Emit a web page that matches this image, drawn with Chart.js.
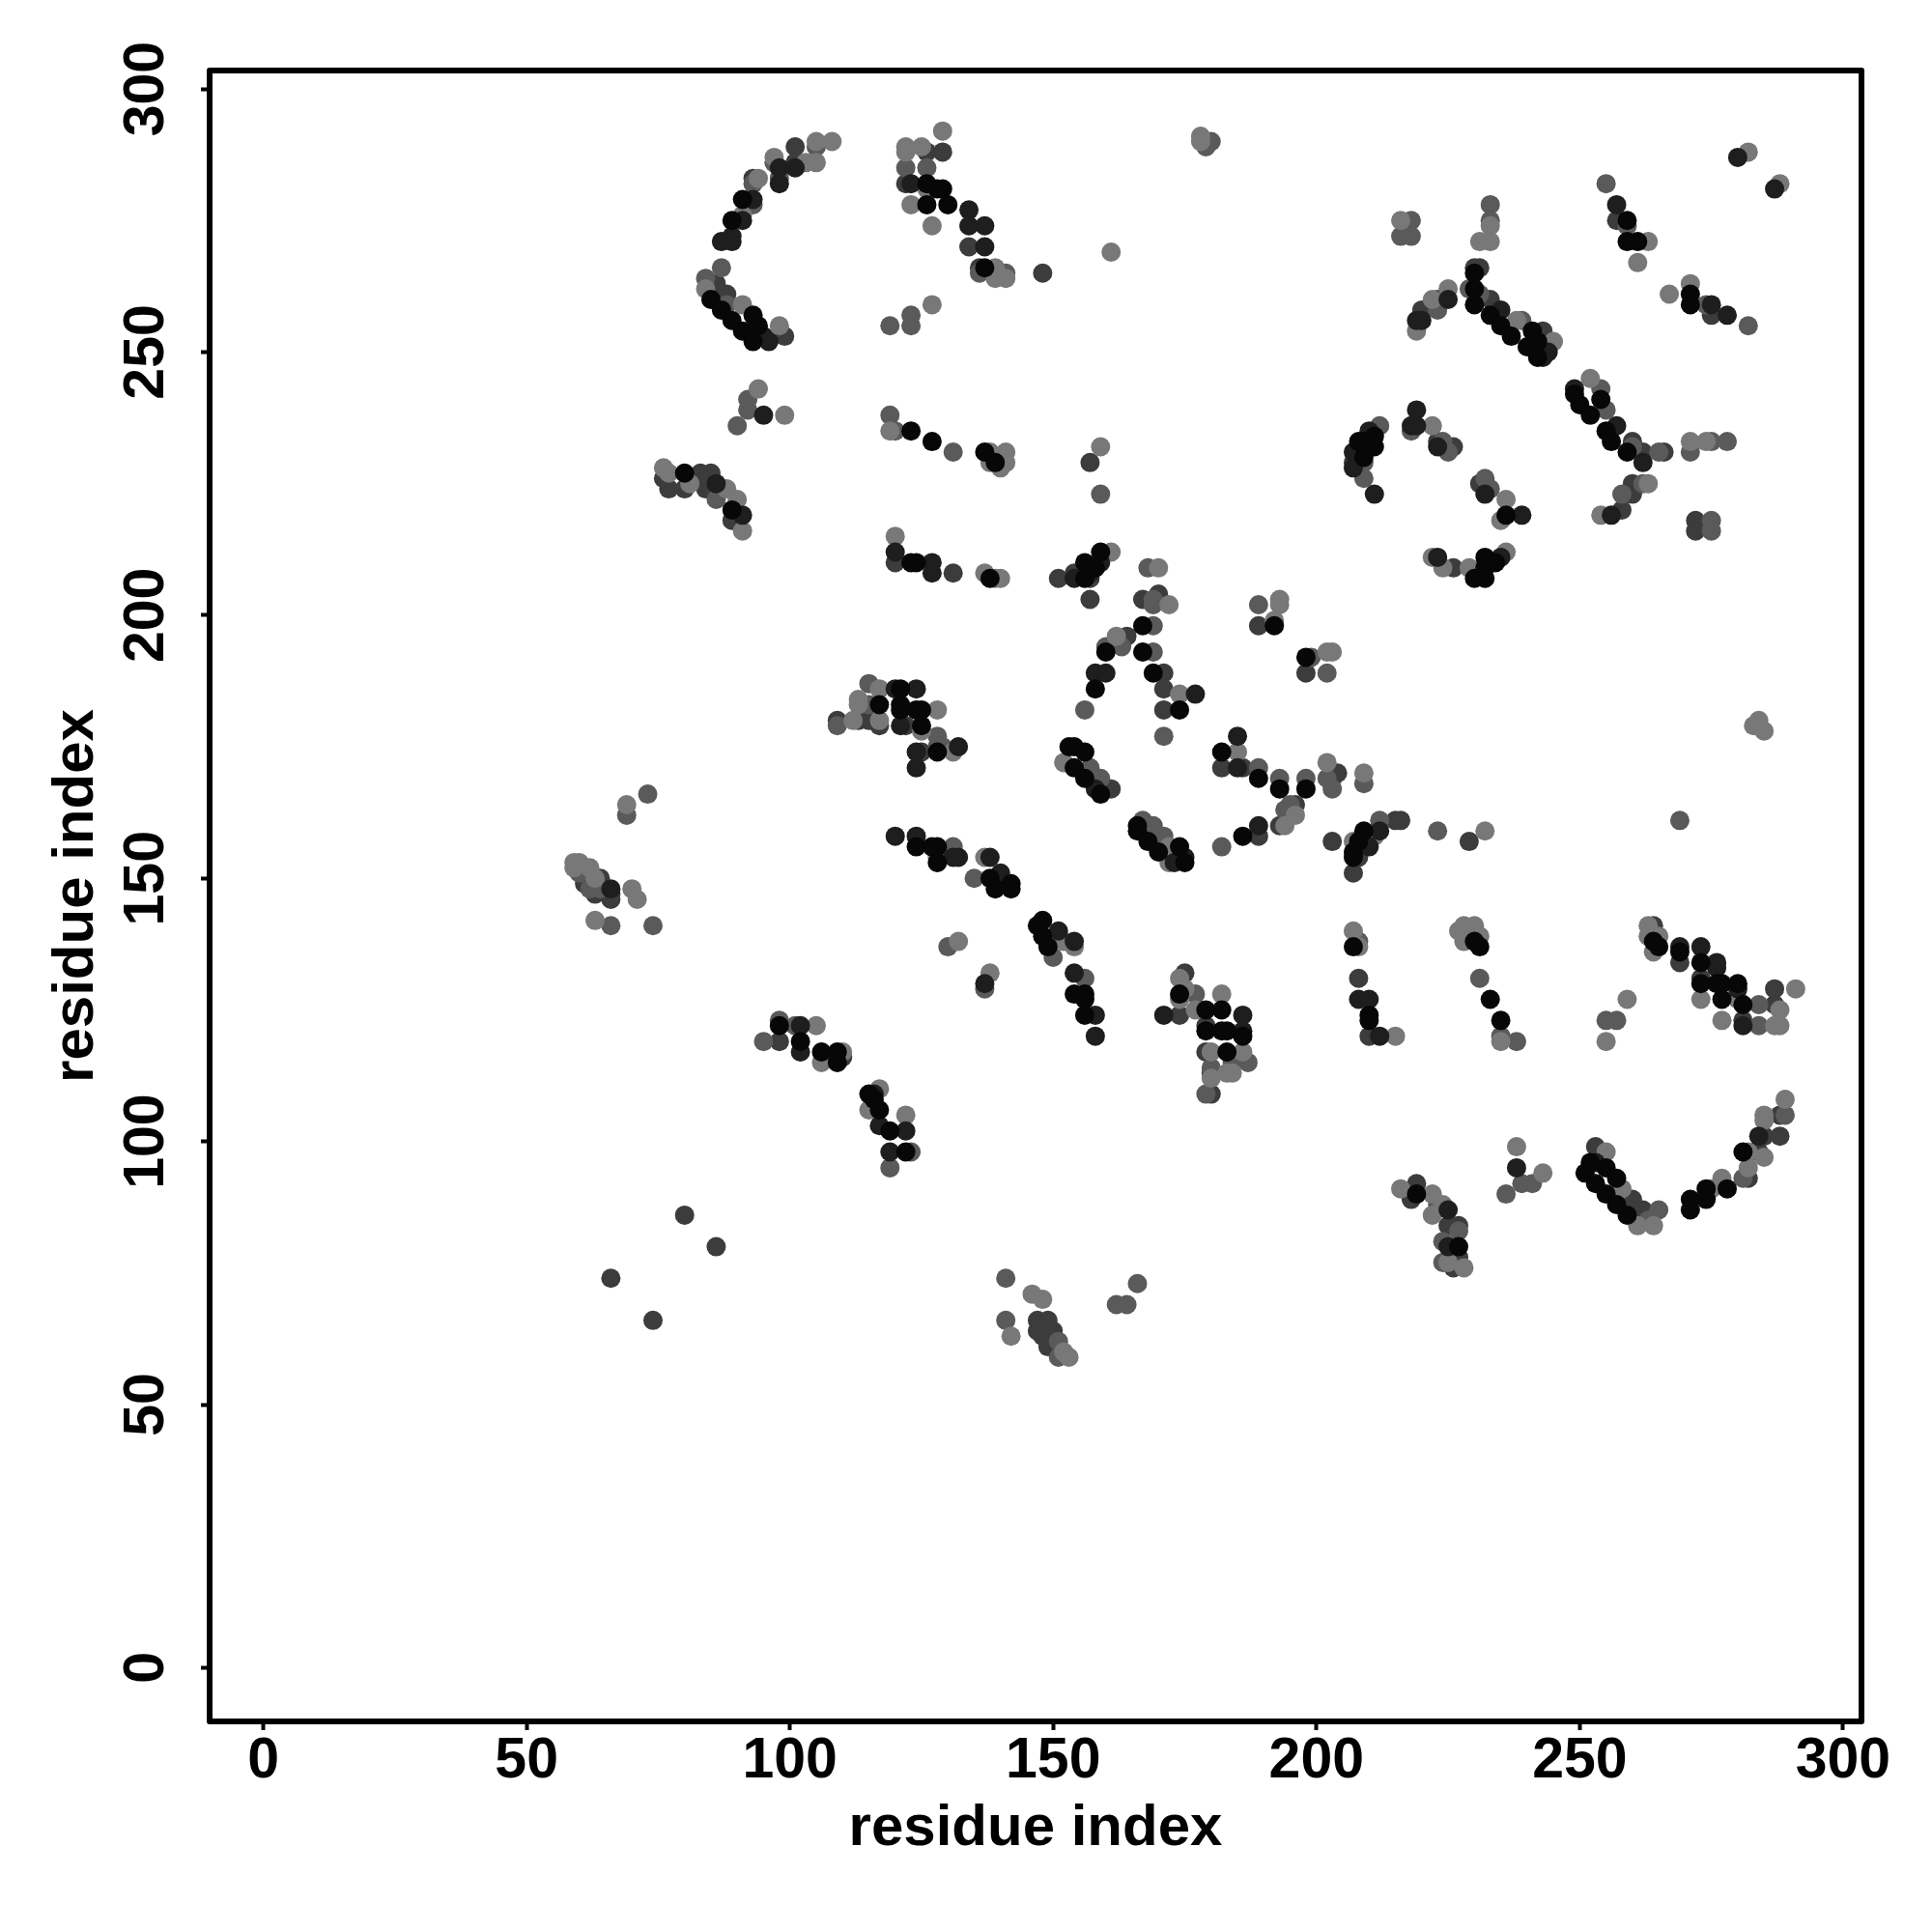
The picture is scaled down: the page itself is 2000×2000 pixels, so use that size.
<!DOCTYPE html>
<html><head><meta charset="utf-8">
<style>html,body{margin:0;padding:0;background:#fff}canvas{display:block}</style>
<script src="https://cdn.jsdelivr.net/npm/chart.js@4/dist/chart.umd.min.js"></script>
</head><body><canvas id="c" width="2000" height="2000"></canvas>
<script>
const tickValues = [0, 50, 100, 150, 200, 250, 300];
const xTitle = "residue index";
const yTitle = "residue index";
const blackPoints = [[91,279],[89,275],[85,260],[87,258],[89,256],[91,254],[93,257],[94,255],[93,252],[126,282],[129,281],[128,281],[126,278],[130,278],[137,266],[123,235],[127,233],[137,231],[139,229],[80,227],[89,220],[259,275],[259,271],[261,271],[271,261],[271,259],[230,265],[230,262],[230,259],[233,257],[235,255],[237,253],[241,254],[240,251],[242,252],[242,249],[249,242],[250,240],[254,241],[252,238],[255,235],[256,233],[259,231],[211,234],[208,233],[209,233],[211,232],[209,230],[236,219],[232,211],[234,210],[232,209],[230,207],[232,207],[123,210],[124,210],[138,207],[159,212],[156,210],[158,209],[156,207],[167,198],[167,193],[160,193],[158,186],[169,189],[174,182],[182,174],[189,169],[193,167],[192,198],[121,186],[117,183],[121,183],[121,182],[124,182],[125,182],[125,179],[128,174],[153,175],[154,175],[156,174],[154,171],[156,169],[159,166],[124,156],[128,156],[127,156],[128,153],[138,150],[139,148],[142,149],[142,148],[166,160],[166,159],[168,157],[170,155],[174,156],[175,153],[186,158],[198,167],[198,192],[208,157],[209,159],[207,155],[207,154],[207,137],[230,138],[231,137],[147,141],[148,142],[148,139],[149,137],[154,128],[156,128],[156,127],[156,124],[98,122],[102,119],[106,117],[109,117],[109,115],[115,109],[116,108],[117,106],[119,102],[122,98],[174,128],[179,125],[182,125],[179,121],[182,121],[183,121],[186,120],[183,117],[210,124],[210,123],[233,127],[235,123],[264,138],[265,137],[269,136],[273,134],[273,130],[276,130],[277,130],[280,130],[277,127],[281,126],[252,96],[251,94],[255,95],[257,93],[253,92],[255,90],[257,88],[259,86],[271,89],[271,87],[274,91],[274,89],[278,91],[281,98],[219,90],[227,80]];
const darkPoints = [[93,279],[87,271],[89,272],[89,271],[91,275],[98,285],[98,282],[95,253],[96,252],[134,277],[134,274],[137,274],[137,270],[123,282],[101,285],[95,238],[91,219],[86,225],[120,212],[220,256],[219,256],[225,260],[280,287],[287,281],[257,278],[275,259],[278,257],[244,250],[243,249],[235,258],[249,243],[257,236],[262,229],[210,235],[207,231],[207,228],[211,223],[219,239],[218,236],[219,236],[223,232],[232,223],[239,219],[256,219],[223,211],[235,211],[127,210],[127,208],[159,210],[157,208],[154,207],[158,189],[160,189],[177,185],[185,177],[185,171],[120,186],[124,186],[121,179],[124,174],[132,175],[124,171],[120,158],[124,158],[132,154],[131,154],[138,154],[140,151],[158,167],[175,154],[173,153],[189,160],[212,159],[210,156],[102,122],[102,117],[116,109],[117,103],[122,102],[119,98],[66,148],[137,130],[154,138],[151,140],[154,132],[158,124],[158,120],[171,124],[186,124],[186,121],[208,127],[210,127],[212,120],[269,137],[273,137],[276,134],[276,133],[280,129],[281,122],[284,101],[238,95],[253,96],[225,87],[225,80]];
const midDarkPoints = [[101,289],[101,286],[93,283],[126,288],[129,288],[122,282],[134,270],[136,266],[148,265],[99,253],[88,261],[86,263],[76,226],[77,224],[83,227],[85,227],[80,224],[84,224],[89,218],[223,260],[220,258],[230,266],[231,266],[233,260],[243,254],[260,233],[262,231],[266,231],[260,225],[260,223],[258,220],[275,257],[272,218],[272,216],[257,275],[207,229],[223,233],[226,232],[231,225],[226,209],[120,210],[131,208],[157,203],[157,229],[151,207],[154,208],[157,207],[167,203],[170,204],[164,196],[171,189],[171,186],[171,182],[182,171],[186,171],[189,198],[189,158],[109,180],[113,180],[115,180],[117,179],[122,179],[125,174],[161,167],[196,164],[193,160],[203,157],[215,161],[216,161],[229,157],[204,170],[203,169],[198,189],[208,154],[207,151],[64,150],[61,149],[63,147],[66,147],[66,146],[98,119],[110,116],[175,132],[174,124],[179,122],[179,117],[180,113],[180,109],[208,131],[210,120],[264,141],[269,134],[273,131],[281,123],[287,129],[287,126],[260,89],[262,87],[282,93],[284,98],[285,101],[288,101],[288,105],[253,99],[219,92],[218,90],[218,89],[225,84],[227,84],[227,78],[226,76],[66,74],[74,66],[80,86],[86,80],[147,66],[149,66],[147,64],[148,63],[150,64],[149,61]];
const midPoints = [[105,289],[97,286],[98,283],[93,282],[93,278],[87,266],[84,264],[88,259],[122,285],[126,285],[141,265],[136,265],[123,257],[123,255],[119,255],[92,241],[92,239],[90,236],[119,238],[120,235],[131,231],[86,222],[179,290],[180,290],[179,289],[218,275],[216,272],[218,272],[233,278],[233,275],[229,262],[231,261],[239,256],[254,243],[255,239],[260,232],[265,231],[271,231],[275,233],[278,233],[274,259],[255,282],[282,255],[259,274],[212,236],[209,229],[209,226],[218,235],[224,233],[225,231],[232,226],[233,224],[262,225],[258,223],[275,218],[275,216],[223,258],[159,223],[168,209],[169,203],[169,202],[169,198],[169,193],[163,194],[160,194],[156,182],[171,177],[189,202],[115,187],[115,183],[109,179],[128,177],[128,175],[129,175],[157,171],[159,169],[167,161],[169,160],[171,158],[182,156],[194,163],[195,164],[131,156],[135,150],[189,171],[193,169],[198,169],[202,169],[203,167],[209,168],[199,192],[202,189],[212,161],[223,159],[269,161],[208,138],[60,151],[62,148],[64,148],[66,141],[74,141],[69,162],[73,166],[98,123],[101,122],[95,119],[123,98],[119,95],[130,137],[150,135],[156,131],[137,129],[177,128],[184,115],[187,115],[180,114],[179,109],[231,131],[235,120],[238,119],[284,126],[284,122],[255,123],[257,123],[281,93],[289,105],[239,92],[241,92],[236,90],[265,87],[263,85],[223,88],[224,81],[224,77],[227,83],[141,74],[141,66],[162,69],[164,69],[166,73],[151,62],[151,59]];
const lightPoints = [[108,290],[105,290],[103,286],[105,286],[97,287],[94,283],[91,276],[84,262],[91,259],[98,255],[129,292],[122,289],[122,288],[125,289],[126,281],[123,278],[127,274],[139,266],[141,264],[139,264],[127,259],[94,243],[99,238],[119,235],[138,231],[141,231],[141,229],[138,229],[140,228],[76,228],[77,227],[81,225],[88,224],[90,222],[91,216],[120,215],[178,291],[178,290],[161,269],[159,232],[216,275],[233,274],[231,271],[233,271],[225,262],[222,260],[219,254],[282,288],[288,282],[263,271],[261,267],[271,263],[267,261],[238,256],[245,252],[252,245],[271,233],[274,233],[263,225],[254,219],[236,222],[235,218],[222,211],[224,209],[229,209],[236,212],[222,236],[137,208],[140,207],[139,207],[170,209],[172,202],[161,212],[162,196],[174,185],[113,184],[113,183],[117,186],[112,180],[117,180],[128,182],[125,178],[131,174],[152,172],[172,156],[172,153],[128,154],[137,154],[185,174],[193,203],[193,202],[192,199],[202,193],[203,193],[209,170],[202,172],[194,160],[196,162],[211,158],[207,157],[232,159],[283,179],[284,180],[285,178],[207,140],[208,137],[227,140],[228,141],[230,141],[228,138],[231,139],[59,153],[60,153],[59,152],[62,152],[63,150],[70,148],[71,146],[63,142],[106,115],[105,122],[110,117],[117,110],[115,106],[122,105],[154,137],[152,138],[132,138],[138,132],[174,131],[175,129],[174,127],[177,125],[182,128],[186,117],[180,117],[183,113],[184,113],[180,112],[215,120],[235,119],[263,141],[263,139],[265,139],[264,136],[273,127],[277,123],[280,127],[288,125],[287,122],[288,122],[291,129],[259,127],[255,119],[238,99],[243,94],[255,98],[258,91],[261,84],[264,84],[277,93],[275,91],[282,98],[282,95],[285,97],[285,105],[285,104],[289,108],[216,91],[222,90],[224,88],[222,86],[225,77],[228,76],[142,63],[146,71],[148,70],[152,60],[153,59],[69,164]];

const series = [
  {name: "shade 1", pts: blackPoints, color: "#070707"},
  {name: "shade 2", pts: darkPoints, color: "#1e1e1e"},
  {name: "shade 5", pts: lightPoints, color: "#787878"},
  {name: "shade 4", pts: midPoints, color: "#5a5a5a"},
  {name: "shade 3", pts: midDarkPoints, color: "#3c3c3c"}
];

const frame = {
  id: "frame",
  afterDatasetsDraw(chart) {
    const a = chart.chartArea, c = chart.ctx;
    c.save(); c.strokeStyle = "#000"; c.lineWidth = 6; c.lineJoin = "round";
    c.strokeRect(a.left, a.top, a.right - a.left, a.bottom - a.top);
    c.restore();
  }
};
const tickFont = {family: "'Liberation Sans'", weight: "bold", size: 59};
const titleFont = {family: "'Liberation Sans'", weight: "bold", size: 60};

new Chart(document.getElementById("c"), {
  type: "scatter",
  data: {datasets: series.map(s => ({
    label: s.name,
    data: s.pts.map(p => ({x: p[0], y: p[1]})),
    backgroundColor: s.color, borderWidth: 0, pointRadius: 10, pointHoverRadius: 10
  }))},
  options: {
    responsive: false, animation: false,
    layout: {autoPadding: false, padding: {top: 73, right: 73, left: 0, bottom: 0}},
    plugins: {legend: {display: false}, tooltip: {enabled: false}, title: {display: false}},
    scales: {
      x: {
        type: "linear", min: -10.2, max: 303.5,
        afterFit(s) { s.height = 218; },
        afterBuildTicks(s) { s.ticks = tickValues.map(v => ({value: v})); },
        grid: {drawOnChartArea: false, drawTicks: true, tickLength: 9, tickWidth: 4, tickColor: "#000"},
        border: {display: false},
        ticks: {color: "#000", font: tickFont, padding: -3, maxRotation: 0, minRotation: 0, autoSkip: false},
        title: {display: true, text: xTitle, color: "#000", font: titleFont, padding: {top: 0, bottom: 71}}
      },
      y: {
        type: "linear", min: -10.2, max: 303.5,
        afterFit(s) { s.width = 217; },
        afterBuildTicks(s) { s.ticks = tickValues.map(v => ({value: v})); },
        grid: {drawOnChartArea: false, drawTicks: true, tickLength: 9, tickWidth: 4, tickColor: "#000"},
        border: {display: false},
        ticks: {color: "#000", font: tickFont, padding: 6, minRotation: 90, maxRotation: 90, crossAlign: "center", autoSkip: false},
        title: {display: true, text: yTitle, color: "#000", font: titleFont, padding: {top: 43, bottom: 0}}
      }
    }
  },
  plugins: [frame]
});
</script></body></html>
